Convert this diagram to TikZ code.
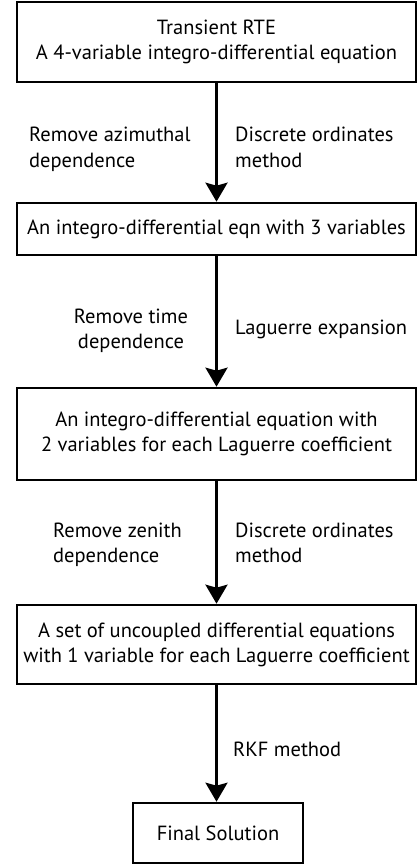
\documentclass[tikz,border=0pt]{standalone}
\usepackage{fontspec}
\setmainfont{PT Sans}
\usetikzlibrary{arrows.meta}
\begin{document}
\begin{tikzpicture}[x=1pt,y=-1pt,
  every node/.style={font=\fontsize{20.5}{25}\selectfont},
  box/.style={draw, line width=2.6pt, inner sep=0pt, align=center, minimum width=#1},
  box/.default=399pt,
  lab/.style={inner sep=0pt, align=left, anchor=base west},
  arr/.style={line width=2.6pt, -{Stealth[length=19pt,width=22pt,inset=3pt]}}]
\useasboundingbox (0,0) rectangle (419,864);
\node[box, minimum height=80pt] (b1) at (216.5,42) {Transient RTE\\A 4-variable integro-differential equation};
\node[box, minimum height=52pt] (b2) at (216.5,229) {An integro-differential eqn with 3 variables};
\node[box, minimum height=92pt] (b3) at (216.5,434) {An integro-differential equation with\\2 variables for each Laguerre coefficient};
\node[box, minimum height=79pt] (b4) at (216.5,644.5) {A set of uncoupled differential equations\\with 1 variable for each Laguerre coefficient};
\node[box=170pt, minimum height=60pt] (b5) at (218,833) {Final Solution};
\draw[arr] (b1.south) -- (b1.south |- b2.north);
\draw[arr] (b2.south) -- (b2.south |- b3.north);
\draw[arr] (b3.south) -- (b3.south |- b4.north);
\draw[arr] (b4.south) -- (b4.south |- b5.north);
\node[lab] (l1) at (29,167) {Remove azimuthal\\dependence};
\node[lab] (r1) at (235,167) {Discrete ordinates\\method};
\node[lab, align=center, anchor=base] (l2) at (131,348) {Remove time\\dependence};
\node[lab] (r2) at (235,334) {Laguerre expansion};
\node[lab] (l3) at (53,562) {Remove zenith\\dependence};
\node[lab] (r3) at (235,562) {Discrete ordinates\\method};
\node[lab] (r4) at (233,756) {RKF method};
\end{tikzpicture}
\end{document}
